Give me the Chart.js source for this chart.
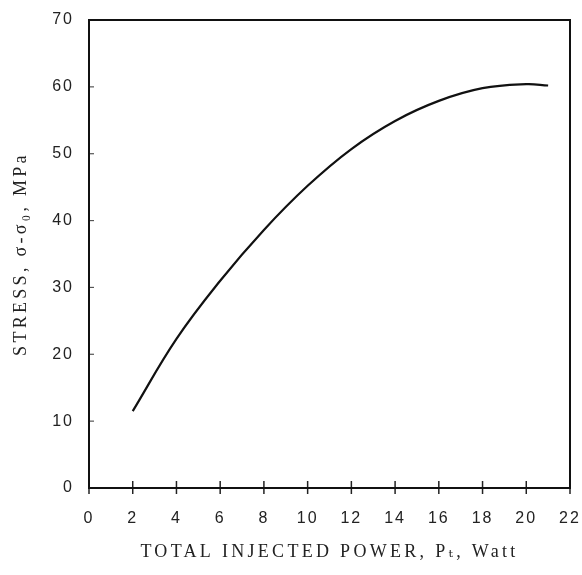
<!DOCTYPE html>
<html>
<head>
<meta charset="utf-8">
<script src="https://cdn.jsdelivr.net/npm/chart.js@4.4.1/dist/chart.umd.min.js"></script>
<style>
  html, body { margin: 0; padding: 0; background: #fff; }
  #wrap { width: 582px; height: 575px; }
</style>
</head>
<body>
<div id="wrap"><canvas id="stressChart"></canvas></div>
<script>
// ========================
// Data
// ========================
const powerWatt = [2, 4, 6, 8, 10, 12, 14, 16, 18, 20, 21];
const stressMPa = [11.5, 22.3, 31.0, 38.6, 45.2, 50.7, 54.9, 57.9, 59.8, 60.4, 60.2];
const xTickValues = [0, 2, 4, 6, 8, 10, 12, 14, 16, 18, 20, 22];
const yTickValues = [0, 10, 20, 30, 40, 50, 60, 70];
const xTitle = 'TOTAL INJECTED POWER, P\u209C, Watt';
const yTitle = 'STRESS, \u03C3-\u03C3\u2080, MPa';

// ========================
// Plugins
// ========================

// titles get wide spacing, tick labels (drawn later, z:1) a little less
const spacingPlugin = {
    id: 'spacing',
    beforeDraw(chart) { chart.ctx.letterSpacing = '3.3px'; },
    afterDatasetsDraw(chart) { chart.ctx.letterSpacing = '2px'; },
    afterDraw(chart) { chart.ctx.letterSpacing = '0px'; }
};

// box around the plot + tick marks (x crossing, y inward)
const framePlugin = {
    id: 'frame',
    afterDraw(chart) {
        const {ctx, chartArea: a, scales: {x, y}} = chart;
        ctx.save();
        ctx.strokeStyle = '#222';
        ctx.lineWidth = 1.5;
        x.ticks.forEach(t => {
            const px = x.getPixelForValue(t.value);
            ctx.beginPath();
            ctx.moveTo(px, a.bottom - 7);
            ctx.lineTo(px, a.bottom + 6);
            ctx.stroke();
        });
        ctx.strokeStyle = '#555';
        ctx.lineWidth = 1.2;
        y.ticks.forEach(t => {
            const py = y.getPixelForValue(t.value);
            ctx.beginPath();
            ctx.moveTo(a.left, py);
            ctx.lineTo(a.left + 5, py);
            ctx.stroke();
        });
        ctx.strokeStyle = '#111';
        ctx.lineWidth = 2;
        ctx.strokeRect(a.left, a.top, a.right - a.left, a.bottom - a.top);
        ctx.restore();
    }
};

// ========================
// Chart
// ========================
const tickFont = { family: "'Liberation Sans', Arial, sans-serif", size: 16 };
const titleFont = { family: "'Liberation Serif', 'DejaVu Serif', serif", size: 18 };

new Chart(document.getElementById('stressChart'), {
    type: 'line',
    data: {
        datasets: [{
            label: 'Stress',
            data: powerWatt.map((p, i) => ({ x: p, y: stressMPa[i] })),
            borderColor: '#111',
            borderWidth: 2.2,
            pointRadius: 0,
            fill: false,
            tension: 0.4
        }]
    },
    options: {
        responsive: true,
        maintainAspectRatio: false,
        animation: false,
        devicePixelRatio: 1,
        layout: { padding: { top: 20, right: 12, left: 0, bottom: 0 } },
        plugins: {
            legend: { display: false },
            tooltip: { enabled: false }
        },
        scales: {
            x: {
                type: 'linear',
                min: 0,
                max: 22,
                afterBuildTicks: s => { s.ticks = xTickValues.map(v => ({ value: v })); },
                afterFit: s => { s.height = 87; s.paddingLeft = 0; s.paddingRight = 0; },
                grid: { display: false, drawTicks: false },
                border: { display: false },
                ticks: { z: 1, padding: 21, color: '#222', font: tickFont, maxRotation: 0 },
                title: {
                    display: true,
                    text: xTitle,
                    color: '#222',
                    font: titleFont,
                    padding: { top: 0, bottom: 12 }
                }
            },
            y: {
                type: 'linear',
                min: 0,
                max: 70,
                afterBuildTicks: s => { s.ticks = yTickValues.map(v => ({ value: v })); },
                afterFit: s => { s.width = 89; s.paddingTop = 0; s.paddingBottom = 0; },
                grid: { display: false, drawTicks: false },
                border: { display: false },
                ticks: { z: 1, padding: 15, color: '#222', font: tickFont },
                title: {
                    display: true,
                    text: yTitle,
                    color: '#222',
                    font: titleFont,
                    padding: { top: 10, bottom: 0 }
                }
            }
        }
    },
    plugins: [spacingPlugin, framePlugin]
});
</script>
</body>
</html>
